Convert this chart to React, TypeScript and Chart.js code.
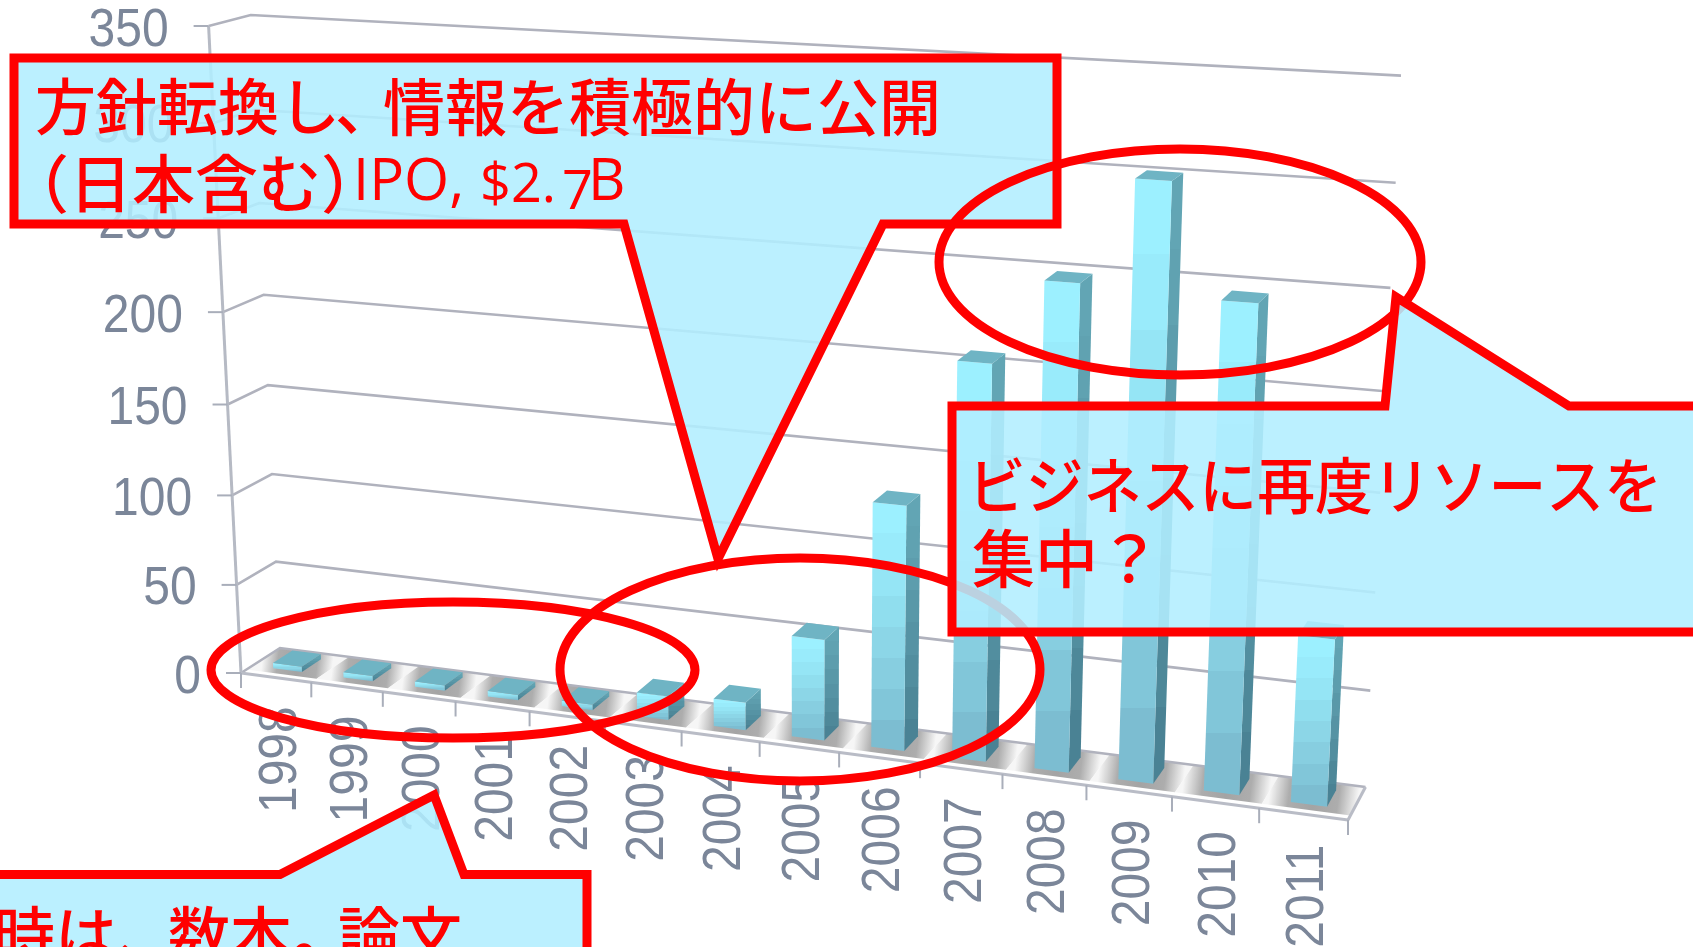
import React, { useEffect, useRef } from "react";
import { Chart, registerables } from "chart.js";

Chart.register(...registerables);

const categories = ["1998","1999","2000","2001","2002","2003","2004","2005","2006","2007","2008","2009","2010","2011"];
const paperCounts = [3, 3, 3, 3, 3, 13, 15, 54, 129, 205, 248, 300, 245, 85];
const yMax = 350;
const yStep = 50;

type Pt = [number, number];
// Square-to-quad perspective map (Heckbert)
function quadMap(p00: Pt, p10: Pt, p11: Pt, p01: Pt) {
  const [x0, y0] = p00, [x1, y1] = p10, [x2, y2] = p11, [x3, y3] = p01;
  const dx1 = x1 - x2, dx2 = x3 - x2, sx = x0 - x1 + x2 - x3;
  const dy1 = y1 - y2, dy2 = y3 - y2, sy = y0 - y1 + y2 - y3;
  const den = dx1 * dy2 - dx2 * dy1;
  const g = (sx * dy2 - dx2 * sy) / den;
  const h = (dx1 * sy - sx * dy1) / den;
  const a = x1 - x0 + g * x1, b = x3 - x0 + h * x3, c = x0;
  const d = y1 - y0 + g * y1, e = y3 - y0 + h * y3, f = y0;
  return (u: number, v: number): Pt => {
    const w = g * u + h * v + 1;
    return [(a * u + b * v + c) / w, (d * u + e * v + f) / w];
  };
}
const frontPlane = quadMap([241, 673], [1348, 820], [1383.5, 90], [208.6, 26]);
const backPlane = quadMap([280, 648], [1365.5, 787], [1401, 75.6], [250.7, 15]);
function project(u: number, v: number, w: number): Pt {
  const f = frontPlane(u, v), b = backPlane(u, v);
  return [f[0] + (b[0] - f[0]) * w, f[1] + (b[1] - f[1]) * w];
}

const AXIS_TEXT = "#7B8699";
const GRID = "#B0B2BD";
const RED = "#FF0000";
const CALLOUT_FILL = "rgba(178,238,255,0.88)";
const CJK = '"Noto Sans CJK JP"';
const LATIN = '"Liberation Sans"';
const BAR_W0 = 0.3;
const BAR_W1 = 0.8;

function mix(a: number[], b: number[], t: number) {
  return `rgb(${a.map((x, i) => Math.round(x + (b[i] - x) * t)).join(",")})`;
}

function poly(ctx: CanvasRenderingContext2D, pts: Pt[]) {
  ctx.beginPath();
  pts.forEach((p, i) => (i ? ctx.lineTo(p[0], p[1]) : ctx.moveTo(p[0], p[1])));
  ctx.closePath();
}
function line(ctx: CanvasRenderingContext2D, a: Pt, b: Pt) {
  ctx.beginPath();
  ctx.moveTo(a[0], a[1]);
  ctx.lineTo(b[0], b[1]);
  ctx.stroke();
}

function bandGradient(ctx: CanvasRenderingContext2D, y0: number, y1: number, top: number[], bottom: number[]) {
  const g = ctx.createLinearGradient(0, y0, 0, y1);
  const n = 8;
  for (let i = 0; i < n; i++) {
    const c = mix(top, bottom, Math.pow(i / (n - 1), 1.2));
    g.addColorStop(i / n, c);
    g.addColorStop((i + 1) / n, c);
  }
  return g;
}

const perspectivePlugin = {
  id: "perspective",
  beforeDatasetsDraw(chart: any) {
    const ctx: CanvasRenderingContext2D = chart.ctx;
    const yScale = chart.scales.y;
    const area = chart.chartArea;
    const vOf = (val: number) => (area.bottom - yScale.getPixelForValue(val)) / (area.bottom - area.top);
    const n = categories.length;
    ctx.save();

    // floor stripes
    for (let i = 0; i < n; i++) {
      const u0 = i / n, u1 = (i + 1) / n;
      const a = project(u0, 0, 0.55), b = project(u1, 0, 0.55);
      const g = ctx.createLinearGradient(a[0], a[1], b[0], b[1]);
      g.addColorStop(0, "#F6F6F6");
      g.addColorStop(0.22, "#ADADAD");
      g.addColorStop(0.5, "#A4A4A4");
      g.addColorStop(0.78, "#ADADAD");
      g.addColorStop(1, "#F6F6F6");
      ctx.fillStyle = g;
      poly(ctx, [project(u0, 0, 0.14), project(u1, 0, 0.14), project(u1, 0, 1), project(u0, 0, 1)]);
      ctx.fill();
    }

    // gridlines on side wall and back wall
    ctx.strokeStyle = GRID;
    ctx.lineWidth = 2.6;
    yScale.ticks.forEach((t: any) => {
      const v = vOf(t.value);
      ctx.beginPath();
      const a = project(0, v, 0), b = project(0, v, 1), c = project(1, v, 1);
      ctx.moveTo(a[0], a[1]);
      ctx.lineTo(b[0], b[1]);
      ctx.lineTo(c[0], c[1]);
      ctx.stroke();
    });

    // y axis
    ctx.lineWidth = 3;
    ctx.strokeStyle = "#B6BAC4";
    line(ctx, project(0, 0, 0), project(0, 1, 0));
    // floor front + right edges
    ctx.strokeStyle = "#B9BCC6";
    line(ctx, project(0, 0, 0), project(1, 0, 0));
    line(ctx, project(1, 0, 0), project(1, 0, 1));

    // y ticks and labels
    ctx.lineWidth = 2;
    ctx.strokeStyle = "#A9AEBA";
    ctx.fillStyle = AXIS_TEXT;
    ctx.font = `48px ${LATIN}`;
    ctx.textBaseline = "middle";
    yScale.ticks.forEach((t: any) => {
      const p = project(0, vOf(t.value), 0);
      line(ctx, [p[0] - 15, p[1]], p);
      ctx.save();
      ctx.translate(p[0] - 40, p[1] + 5);
      ctx.scale(1, 1.1);
      ctx.textAlign = "right";
      ctx.fillText(String(t.value), 0, 0);
      ctx.restore();
    });

    // x ticks and labels
    for (let i = 0; i <= n; i++) {
      const p = project(i / n, 0, 0);
      line(ctx, p, [p[0], p[1] + 15]);
    }
    categories.forEach((label, i) => {
      const p = project((i + 0.5) / n, 0, 0);
      ctx.save();
      ctx.translate(p[0] + 5, p[1] + 82);
      ctx.rotate(-Math.PI / 2);
      ctx.scale(1, 1.12);
      ctx.textAlign = "center";
      ctx.textBaseline = "middle";
      ctx.fillText(label, 0, 0);
      ctx.restore();
    });
    ctx.restore();
  },
  beforeDatasetDraw() {
    return false;
  },
  afterDatasetsDraw(chart: any) {
    const ctx: CanvasRenderingContext2D = chart.ctx;
    const area = chart.chartArea;
    const W = area.right - area.left, H = area.bottom - area.top;
    const meta = chart.getDatasetMeta(0);
    ctx.save();
    meta.data.forEach((bar: any) => {
      const u0 = (bar.x - bar.width / 2 - area.left) / W;
      const u1 = (bar.x + bar.width / 2 - area.left) / W;
      const v = (area.bottom - bar.y) / H;
      const v0 = (area.bottom - bar.base) / H;
      const fbl = project(u0, v0, BAR_W0), fbr = project(u1, v0, BAR_W0);
      const ftl = project(u0, v, BAR_W0), ftr = project(u1, v, BAR_W0);
      const bbr = project(u1, v0, BAR_W1), btr = project(u1, v, BAR_W1), btl = project(u0, v, BAR_W1);
      ctx.fillStyle = bandGradient(ctx, Math.min(btr[1], ftr[1]), fbr[1], [98, 165, 180], [74, 130, 148]);
      poly(ctx, [fbr, ftr, btr, bbr]);
      ctx.fill();
      ctx.fillStyle = bandGradient(ctx, ftl[1], fbr[1], [156, 240, 255], [124, 189, 209]);
      poly(ctx, [fbl, fbr, ftr, ftl]);
      ctx.fill();
      ctx.fillStyle = "#6FB4C4";
      poly(ctx, [ftl, ftr, btr, btl]);
      ctx.fill();
    });
    ctx.restore();
  },
  afterDraw(chart: any) {
    const ctx: CanvasRenderingContext2D = chart.ctx;
    ctx.save();
    ctx.lineWidth = 9;
    ctx.lineJoin = "miter";
    ctx.miterLimit = 10;
    ctx.strokeStyle = RED;

    const callout = (pts: Pt[]) => {
      poly(ctx, pts);
      ctx.fillStyle = CALLOUT_FILL;
      ctx.fill();
      ctx.stroke();
    };
    const ellipse = (cx: number, cy: number, rx: number, ry: number) => {
      ctx.beginPath();
      ctx.ellipse(cx, cy, rx, ry, 0, 0, Math.PI * 2);
      ctx.stroke();
    };
    const text = (s: string, x: number, y: number, size: number, family = CJK, maxW?: number, weight = 500) => {
      ctx.font = `${weight} ${size}px ${family}`;
      ctx.fillStyle = RED;
      ctx.textAlign = "left";
      ctx.textBaseline = "middle";
      if (maxW) ctx.fillText(s, x, y, maxW);
      else ctx.fillText(s, x, y);
    };

    // lower ellipses
    ellipse(453, 670, 242, 68);
    ellipse(800, 669.5, 240, 111.5);

    // top callout
    callout([[14, 58], [1057, 58], [1057, 224], [883, 224], [718, 559], [624, 224], [14, 224]]);
    text("方針転換し", 35, 107, 61);
    text("、", 335, 107, 61);
    text("情報を積極的に公開", 383, 107, 62, CJK, 560);
    text("（日本含む）", 6, 183, 63);
    text("IPO,", 353, 183, 58, '"Open Sans"');
    text("$2.", 480, 187, 54, '"Open Sans"');
    text("7", 562, 194, 54, '"Open Sans"');
    text("B", 588, 183, 58, '"Open Sans"');

    // top-right ellipse
    ellipse(1180, 262, 241, 113);

    // right callout
    callout([[952, 406], [1385, 406], [1396, 297], [1569, 406], [1710, 406], [1710, 632], [952, 632]]);
    text("ビジネスに再度リソースを", 968, 486, 61, CJK, 694);
    text("集中？", 972, 558, 63);

    // bottom-left callout (runs off the page)
    callout([[-20, 874.5], [280, 874.5], [434, 795], [464, 874.5], [587, 874.5], [587, 970], [-20, 970]]);
    text("当時は、", -69, 935, 62);
    text("数本", 168, 935, 62);
    text("。", 292, 935, 62);
    text("論文", 338, 935, 62);
    ctx.restore();
  },
};

export default function App() {
  const ref = useRef<HTMLCanvasElement>(null);
  useEffect(() => {
    const chart = new Chart(ref.current as HTMLCanvasElement, {
      type: "bar",
      data: {
        labels: categories,
        datasets: [{ label: "papers", data: paperCounts, backgroundColor: "#9CF0FF", barPercentage: 0.41, categoryPercentage: 1 }],
      },
      options: {
        responsive: false,
        animation: false,
        devicePixelRatio: 1,
        layout: { padding: 0 },
        plugins: { legend: { display: false }, title: { display: false }, tooltip: { enabled: false } },
        scales: {
          x: { display: false, ticks: { autoSkip: false } },
          y: { display: false, min: 0, max: yMax, ticks: { stepSize: yStep } },
        },
      },
      plugins: [perspectivePlugin],
    } as any);
    return () => chart.destroy();
  }, []);
  return (
    <div style={{ position: "fixed", left: 0, top: 0, width: 1693, height: 947, overflow: "hidden", background: "#fff" }}>
      <canvas ref={ref} width={1693} height={947} style={{ display: "block" }} />
    </div>
  );
}
